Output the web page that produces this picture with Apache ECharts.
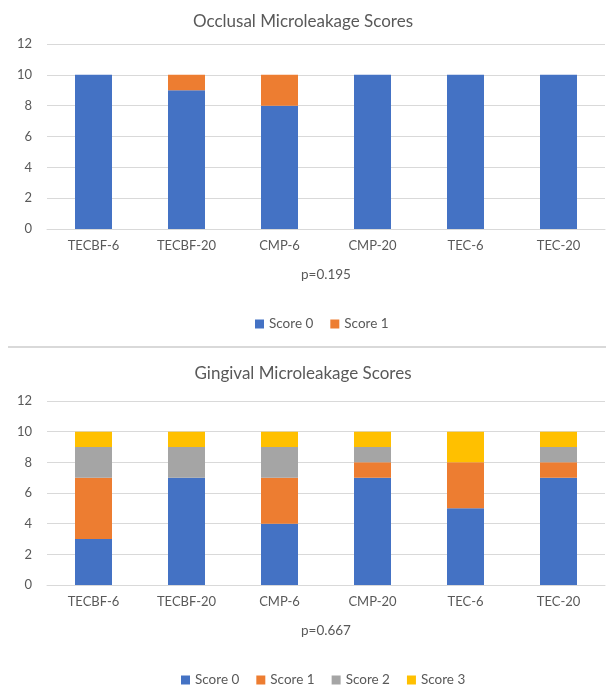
<!DOCTYPE html>
<html>
<head>
<meta charset="utf-8">
<script src="https://cdn.jsdelivr.net/npm/echarts@6/dist/echarts.min.js"></script>
<style>html,body{margin:0;padding:0;background:#fff}#c{width:606px;height:687px}</style>
</head>
<body>
<div id="c"></div>
<script>
const categories = ['TECBF-6','TECBF-20','CMP-6','CMP-20','TEC-6','TEC-20'];
const yTicks = [0,2,4,6,8,10,12];
const occlusalScore0 = [10, 9, 8, 10, 10, 10];
const occlusalScore1 = [0, 1, 2, 0, 0, 0];
const gingivalScore0 = [3, 7, 4, 7, 5, 7];
const gingivalScore1 = [4, 0, 3, 1, 3, 1];
const gingivalScore2 = [2, 2, 2, 1, 0, 1];
const gingivalScore3 = [1, 1, 1, 1, 2, 1];
const pOcclusal = 'p=0.195';
const pGingival = 'p=0.667';
const titles = ['Occlusal Microleakage Scores', 'Gingival Microleakage Scores'];
const scoreNames = ['Score 0','Score 1','Score 2','Score 3'];
const colors = ['#4472C4','#ED7D31','#A5A5A5','#FFC000'];

const font = 'Lato, "Open Sans", sans-serif';
const txt = '#595959';
const grid = '#d9d9d9';

function xAx(idx, pname) {
  return {
    type: 'category', gridIndex: idx, data: categories,
    axisLine: {lineStyle: {color: grid}}, axisTick: {show: false},
    axisLabel: {color: txt, fontSize: 13, fontFamily: font, margin: 10},
    name: pname, nameLocation: 'middle', nameGap: 39,
    nameTextStyle: {color: txt, fontSize: 13.5, fontFamily: font}
  };
}
function yAx(idx) {
  return {
    type: 'value', gridIndex: idx, min: yTicks[0], max: yTicks[yTicks.length-1], interval: 2,
    axisLine: {show: false}, axisTick: {show: false},
    splitLine: {lineStyle: {color: grid, width: 1}},
    axisLabel: {color: txt, fontSize: 13, fontFamily: font, margin: 15}
  };
}
function bar(name, data, idx, color) {
  return {
    name: name, type: 'bar', stack: 'g' + idx, xAxisIndex: idx, yAxisIndex: idx,
    data: data, barWidth: 37, itemStyle: {color: color}
  };
}

const chart = echarts.init(document.getElementById('c'), null, {renderer: 'canvas'});
chart.setOption({
  animation: false,
  color: colors,
  title: [
    {text: titles[0], left: 'center', top: 8, textStyle: {color: txt, fontSize: 17, fontWeight: 'normal', fontFamily: font}},
    {text: titles[1], left: 'center', top: 360, textStyle: {color: txt, fontSize: 17, fontWeight: 'normal', fontFamily: font}}
  ],
  legend: [
    {data: scoreNames.slice(0,2), top: 312, left: 250, itemWidth: 9, itemHeight: 9, itemGap: 17, icon: 'rect',
     textStyle: {color: txt, fontSize: 13.5, fontFamily: font}},
    {data: scoreNames, top: 668, left: 176, itemWidth: 9, itemHeight: 9, itemGap: 17, icon: 'rect',
     textStyle: {color: txt, fontSize: 13.5, fontFamily: font}}
  ],
  grid: [
    {left: 47, right: 1, top: 44, height: 185},
    {left: 47, right: 1, top: 401, height: 184}
  ],
  xAxis: [xAx(0, pOcclusal), xAx(1, pGingival)],
  yAxis: [yAx(0), yAx(1)],
  series: [
    bar(scoreNames[0], occlusalScore0, 0, colors[0]),
    bar(scoreNames[1], occlusalScore1, 0, colors[1]),
    bar(scoreNames[0], gingivalScore0, 1, colors[0]),
    bar(scoreNames[1], gingivalScore1, 1, colors[1]),
    bar(scoreNames[2], gingivalScore2, 1, colors[2]),
    bar(scoreNames[3], gingivalScore3, 1, colors[3])
  ],
  graphic: [
    {type: 'line', shape: {x1: 8, y1: 347, x2: 606, y2: 347}, style: {stroke: '#d9d9d9', lineWidth: 2}}
  ]
});
</script>
</body>
</html>
